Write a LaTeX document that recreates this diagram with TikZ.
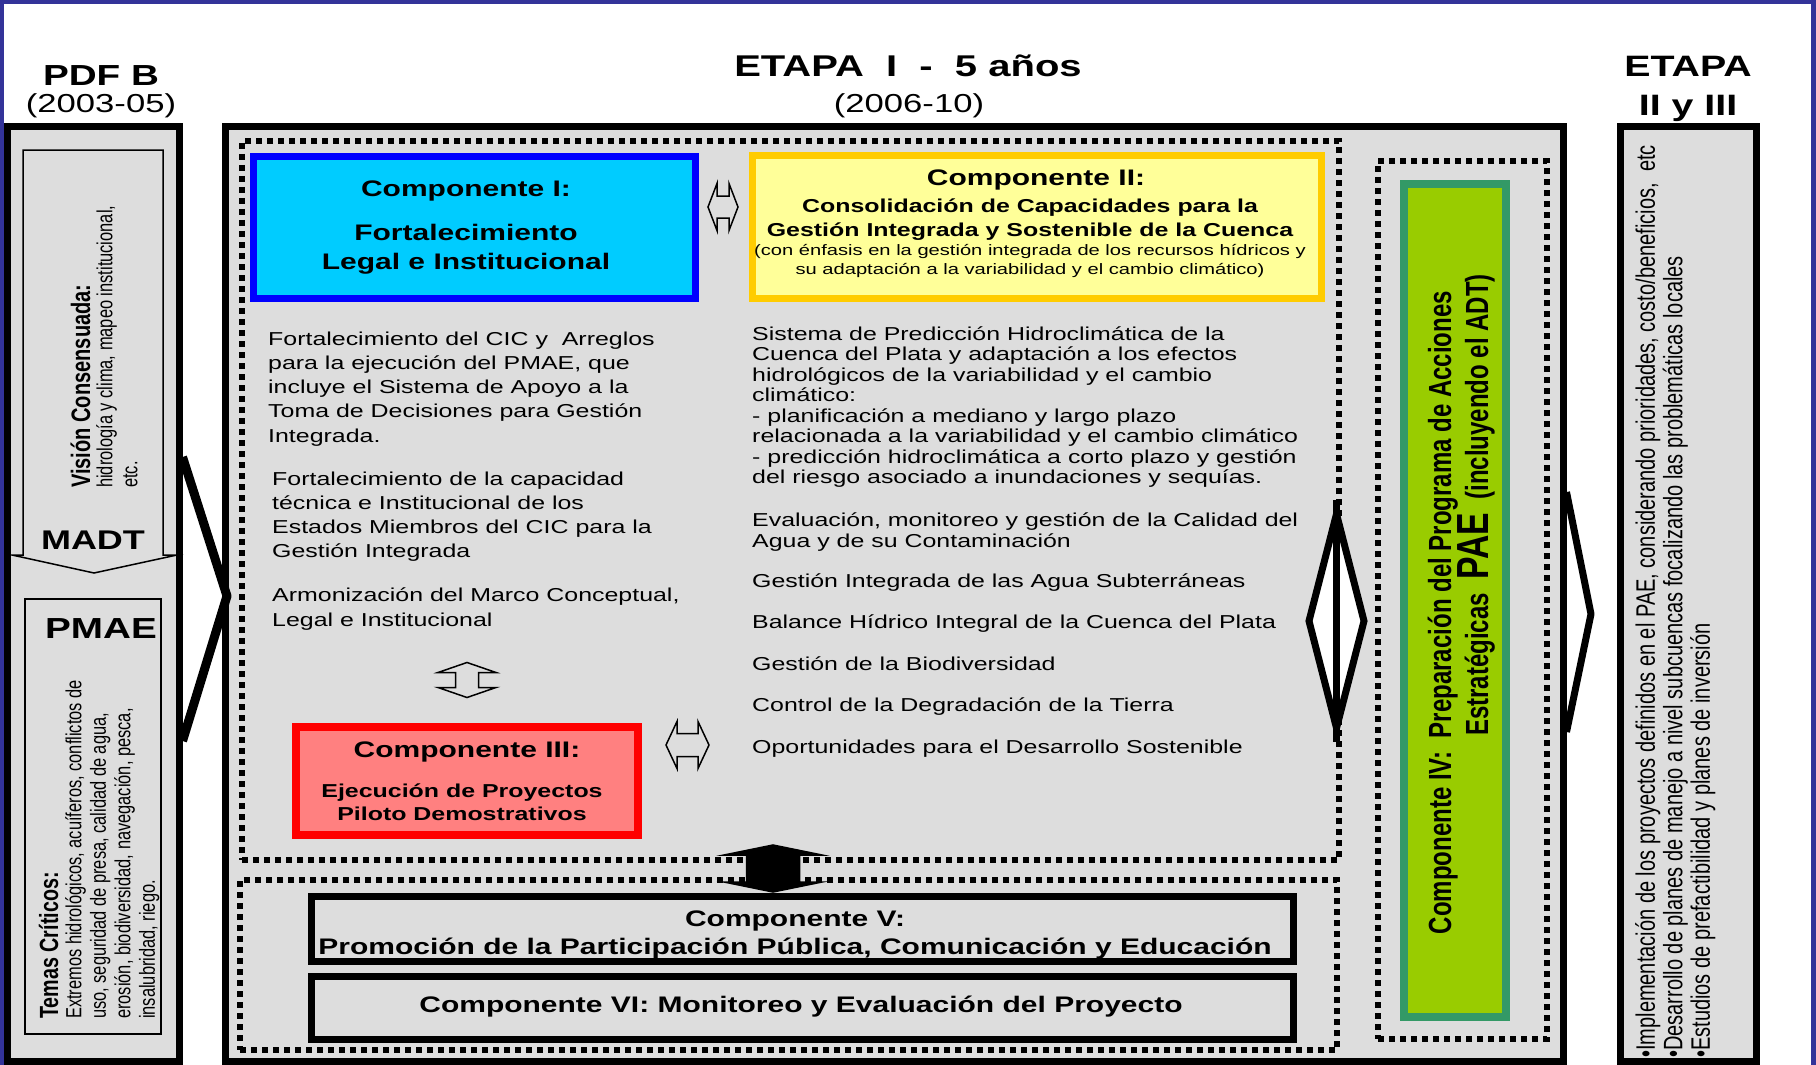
\documentclass[tikz,border=0pt]{standalone}
\usepackage{fontspec}
\setmainfont{Liberation Sans}[FakeStretch=1.333]
\newfontfamily\rotfont{Liberation Sans}[FakeStretch=0.75]
\usetikzlibrary{positioning,calc}

\definecolor{navy}{HTML}{333399}
\definecolor{panelgray}{HTML}{DDDDDD}
\definecolor{cyanfill}{HTML}{00CCFF}
\definecolor{paleyellow}{HTML}{FFFF99}
\definecolor{goldline}{HTML}{FFCC00}
\definecolor{pinkfill}{HTML}{FF8080}
\definecolor{limefill}{HTML}{99CC00}
\definecolor{greenline}{HTML}{339966}

\tikzstyle{stage} = [rectangle, draw=black, line width=7pt, fill=panelgray, inner sep=0pt]
\tikzstyle{dashbox} = [rectangle, draw=black, line width=5.5pt, dash pattern=on 6pt off 5pt, inner sep=0pt]
\tikzstyle{comp1box} = [rectangle, draw=blue, line width=7pt, fill=cyanfill, inner sep=0pt]
\tikzstyle{comp2box} = [rectangle, draw=goldline, line width=7pt, fill=paleyellow, inner sep=0pt]
\tikzstyle{comp3box} = [rectangle, draw=red, line width=8pt, fill=pinkfill, inner sep=0pt]
\tikzstyle{comp4box} = [rectangle, draw=greenline, line width=8pt, fill=limefill, inner sep=0pt]
\tikzstyle{comp56box} = [rectangle, draw=black, line width=7pt, fill=panelgray, inner sep=0pt]
\tikzstyle{thinbox} = [draw=black, line width=1.5pt, fill=panelgray]
\tikzstyle{blockarrow} = [draw=black, line width=1.5pt, fill=panelgray, line join=miter]
\tikzstyle{chevron} = [draw=black, line width=9pt, line join=round]
\tikzstyle{heading} = [inner sep=0pt, anchor=base, font=\bfseries\fontsize{30}{36}\selectfont]
\tikzstyle{years} = [inner sep=0pt, anchor=base, font=\fontsize{26}{30}\selectfont]
\tikzstyle{comptitle} = [inner sep=0pt, anchor=base, font=\bfseries\fontsize{22.5}{29}\selectfont]
\tikzstyle{compsub} = [inner sep=0pt, anchor=north, align=center, font=\bfseries\fontsize{18.7}{24}\selectfont]
\tikzstyle{activity} = [inner sep=0pt, anchor=north west, align=left, font=\fontsize{18.7}{24.2}\selectfont]
\tikzstyle{vhead} = [inner sep=0pt, rotate=90, anchor=base west, font=\rotfont\bfseries\fontsize{26.7}{30}\selectfont]
\tikzstyle{vtext} = [inner sep=0pt, rotate=90, anchor=north west, align=left, font=\rotfont\fontsize{21.9}{25}\selectfont]

\begin{document}
\begin{tikzpicture}[x=1pt, y=-1pt]
\useasboundingbox (0,0) rectangle (1816,1065);

% frame
\fill[navy] (0,0) rectangle (1816,4);
\fill[navy] (0,0) rectangle (4,1065);
\fill[navy] (1811,0) rectangle (1816,1065);

% headings
\node (pdfbhead) [heading, font=\bfseries\fontsize{29}{34}\selectfont] at (101,85) {PDF B};
\node (pdfbyears) [years] at (101,112) {(2003-05)};
\node (etapa1head) [heading] at (908,77) {ETAPA~~I~~-~~5 años};
\node (etapa1years) [years] at (909,112) {(2006-10)};
\node (etapa23head) [heading, font=\bfseries\fontsize{29.5}{34}\selectfont] at (1688,77) {ETAPA};
\node (etapa23sub) [heading, font=\bfseries\fontsize{29.5}{34}\selectfont] at (1688,115) {II y III};

% stage panels
\node (pdfb) [stage, minimum width=171.5pt, minimum height=934.5pt] at (93.25,593.75) {};
\node (etapa1) [stage, minimum width=1338pt, minimum height=934.5pt] at (894,593.75) {};
\node (etapa23) [stage, minimum width=136pt, minimum height=934.5pt] at (1688,593.75) {};

\draw [chevron] (pdfb.east |- 0,457) -- (227,596) -- (pdfb.east |- 0,741);
\draw [chevron, line width=7pt] (etapa1.east |- 0,492) -- (1591,614) -- (etapa1.east |- 0,732);

% PDF B column
\draw [thinbox] (23,150) -- (163,150) -- (163,555) -- (177,555) -- (94,573) -- (12,555) -- (23,555) -- cycle;
\node (visionhead) [vhead] at (90,488) {Visión Consensuada:};
\node (visionbody) [vtext] at (96,488) {hidrología y clima, mapeo institucional,\\etc.};
\node (madt) [heading, font=\bfseries\fontsize{27}{32}\selectfont] at (93,549) {MADT};

\node (pmaebox) [thinbox, minimum width=136pt, minimum height=435pt, inner sep=0pt] at (93,816.5) {};
\node (pmae) [heading, font=\bfseries\fontsize{29}{34}\selectfont] at (101,638) {PMAE};
\node (temashead) [vhead, font=\rotfont\bfseries\fontsize{26.3}{30}\selectfont] at (58,1019) {Temas Críticos:};
\node (temasbody) [vtext, font=\rotfont\fontsize{21.9}{24.5}\selectfont] at (65,1019) {Extremos hidrológicos, acuíferos, conflictos de\\uso, seguridad de presa, calidad de agua,\\erosión, biodiversidad, navegación, pesca,\\insalubridad, riego.};

% ETAPA I
\node (dash1) [dashbox, minimum width=1097pt, minimum height=719pt] at (790.5,500.5) {};
\node (dash2) [dashbox, minimum width=1097pt, minimum height=170pt] at (788.5,965) {};
\node (dash3) [dashbox, minimum width=169pt, minimum height=878pt] at (1462.5,600) {};

\node (comp1) [comp1box, minimum width=442pt, minimum height=141.5pt] at (474,227.25) {};
\node (comp1txt) [comptitle, align=center, anchor=north] at (466,180.6) {Componente I:\\[15pt]Fortalecimiento\\Legal e Institucional};

\node (comp2) [comp2box, minimum width=569.5pt, minimum height=142.5pt] at (1036.75,226.75) {};
\node (comp2title) [comptitle] at (1036,185) {Componente II:};
\node (comp2sub) [compsub] at (1030,198.3) {Consolidación de Capacidades para la\\Gestión Integrada y Sostenible de la Cuenca};
\node (comp2note) [compsub, font=\fontsize{15.1}{19}\selectfont] at (1030,243.7) {(con énfasis en la gestión integrada de los recursos hídricos y\\su adaptación a la variabilidad y el cambio climático)};

\node (comp3) [comp3box, minimum width=342pt, minimum height=108pt] at (467,781) {};
\node (comp3title) [comptitle] at (467,757) {Componente III:};
\node (comp3sub) [compsub, font=\bfseries\fontsize{18.7}{23}\selectfont] at (462,783.3) {Ejecución de Proyectos\\Piloto Demostrativos};

\node (fortcic) [activity] at (268,331.5) {Fortalecimiento del CIC y~~Arreglos\\para la ejecución del PMAE, que\\incluye el Sistema de Apoyo a la\\Toma de Decisiones para Gestión\\Integrada.};
\node (fortcap) [activity, font=\fontsize{18.7}{24}\selectfont] at (272,471.5) {Fortalecimiento de la capacidad\\técnica e Institucional de los\\Estados Miembros del CIC para la\\Gestión Integrada};
\node (armon) [activity, font=\fontsize{18.7}{25}\selectfont] at (272,587.5) {Armonización del Marco Conceptual,\\Legal e Institucional};

\node (predic) [activity, font=\fontsize{18.7}{20.5}\selectfont] at (752,326.5) {Sistema de Predicción Hidroclimática de la\\Cuenca del Plata y adaptación a los efectos\\hidrológicos de la variabilidad y el cambio\\climático:\\- planificación a mediano y largo plazo\\relacionada a la variabilidad y el cambio climático\\- predicción hidroclimática a corto plazo y gestión\\del riesgo asociado a inundaciones y sequías.};
\node (calidad) [activity, font=\fontsize{18.7}{20.5}\selectfont] at (752,513) {Evaluación, monitoreo y gestión de la Calidad del\\Agua y de su Contaminación};
\node (subterr) [activity, anchor=base west] at (752,587) {Gestión Integrada de las Agua Subterráneas};
\node (balance) [activity, anchor=base west] at (752,628) {Balance Hídrico Integral de la Cuenca del Plata};
\node (biodiv) [activity, anchor=base west] at (752,670) {Gestión de la Biodiversidad};
\node (degrad) [activity, anchor=base west] at (752,711) {Control de la Degradación de la Tierra};
\node (oportun) [activity, anchor=base west] at (752,753) {Oportunidades para el Desarrollo Sostenible};

\coordinate (lr1) at (723,207);
\draw [blockarrow] (lr1) ++(-15,0) -- ++(9,-23.5) -- ++(0,12.5) -- ++(12,0) -- ++(0,-12.5) -- ++(9,23.5) -- ++(-9,23.5) -- ++(0,-12.5) -- ++(-12,0) -- ++(0,12.5) -- cycle;
\coordinate (ud1) at (467,680);
\draw [blockarrow] (ud1) ++(0,-17.5) -- ++(29,10) -- ++(-17.5,0) -- ++(0,15) -- ++(17.5,0) -- ++(-29,10) -- ++(-29,-10) -- ++(17.5,0) -- ++(0,-15) -- ++(-17.5,0) -- cycle;
\coordinate (lr2) at (687.5,745);
\draw [blockarrow] (lr2) ++(-21.5,0) -- ++(11,-23.5) -- ++(0,12) -- ++(21,0) -- ++(0,-12) -- ++(11,23.5) -- ++(-11,23.5) -- ++(0,-12) -- ++(-21,0) -- ++(0,12) -- cycle;

\node (comp5) [comp56box, minimum width=982pt, minimum height=65pt] at (802.5,929) {};
\node (comp5txt) [comptitle, align=center, anchor=north, font=\bfseries\fontsize{22.5}{28.3}\selectfont] at (795,910.3) {Componente V:\\Promoción de la Participación Pública, Comunicación y Educación};
\node (comp6) [comp56box, minimum width=982pt, minimum height=63pt] at (802.5,1008) {};
\node (comp6txt) [comptitle] at (801,1012.7) {Componente VI: Monitoreo y Evaluación del Proyecto};

\coordinate (ud2) at (773,868.5);
\draw [blockarrow, fill=black] (ud2) ++(0,-23.5) -- ++(49,10) -- ++(-22.5,0) -- ++(0,27) -- ++(22.5,0) -- ++(-49,10) -- ++(-49,-10) -- ++(22.5,0) -- ++(0,-27) -- ++(-22.5,0) -- cycle;

% link to Componente IV
\coordinate (link4) at (1336.5,621);
\draw [line width=7pt, fill=white, line join=miter] (link4) ++(0,-107) -- ++(27.5,107) -- ++(-27.5,107) -- ++(-27.5,-107) -- cycle;
\draw [line width=7pt] (link4) ++(0,-121) -- ++(0,242);

\node (comp4) [comp4box, minimum width=102pt, minimum height=833pt] at (1455,600.5) {};
\node (comp4a) [inner sep=0pt, rotate=90, anchor=base east, font=\rotfont\bfseries\fontsize{32}{36}\selectfont] at (1451,291) {Componente IV:~~Preparación del Programa de Acciones};
\node (comp4b) [inner sep=0pt, rotate=90, anchor=base east, font=\rotfont\bfseries\fontsize{32}{36}\selectfont] at (1488,274) {Estratégicas~~{\fontsize{45}{45}\selectfont PAE}~~(incluyendo el ADT)};

% ETAPA II y III
\node (etapa23txt) [vtext, font=\rotfont\fontsize{26.7}{27.5}\selectfont] at (1635,1058) {•Implementación de los proyectos definidos en el PAE, considerando prioridades, costo/beneficios,~~etc\\•Desarrollo de planes de manejo a nivel subcuencas focalizando las problemáticas locales\\•Estudios de prefactibilidad y planes de inversión};

\end{tikzpicture}
\end{document}
